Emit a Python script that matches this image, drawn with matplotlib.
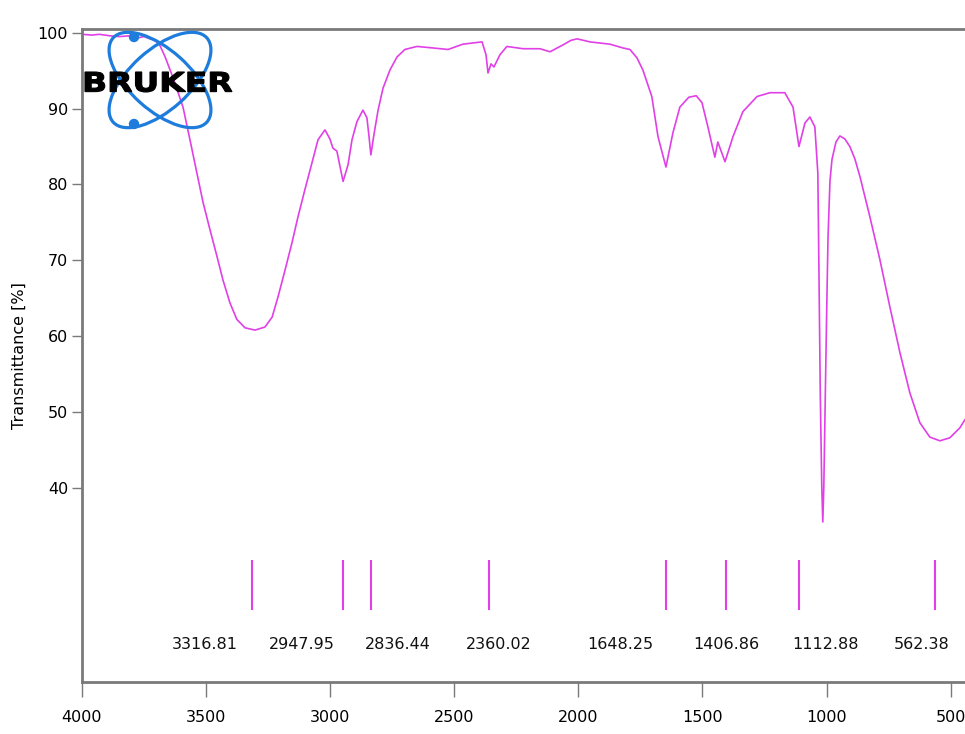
import matplotlib
matplotlib.use("Agg")
import matplotlib.pyplot as plt
from matplotlib.patches import Ellipse, Circle, PathPatch
from matplotlib.textpath import TextPath
from matplotlib.font_manager import FontProperties
from matplotlib.transforms import Affine2D

# spectrum (wavenumber cm-1, transmittance %)
wavenumber = [4000, 3960, 3930, 3887, 3850, 3807, 3780, 3750, 3726, 3714, 3690,
              3666, 3630, 3593, 3565, 3537, 3512, 3484, 3456, 3432, 3404,
              3376, 3343, 3303, 3263, 3234, 3210, 3182, 3154, 3130, 3102, 3073,
              3049, 3021, 3001, 2989, 2973, 2948, 2928, 2912, 2892, 2868, 2852,
              2844, 2836, 2824, 2807, 2787, 2759, 2731, 2699, 2650, 2586, 2525,
              2465, 2388, 2372, 2364, 2352, 2340, 2316, 2288, 2223, 2155, 2114,
              2062, 2030, 2005, 1953, 1873, 1820, 1792, 1764, 1740, 1704, 1679,
              1647, 1619, 1591, 1555, 1525, 1502, 1478, 1450, 1438, 1409, 1377,
              1337, 1280, 1228, 1168, 1135, 1111, 1087, 1067, 1047, 1035, 1031,
              1025, 1019, 1015, 1011, 1006, 1000, 994, 986, 978, 962, 946, 926,
              906, 886, 865, 825, 785, 745, 704, 664, 624, 584, 543, 503, 463, 442]
transmittance = [99.8, 99.7, 99.8, 99.6, 99.5, 99.6, 99.3, 99.5, 99.2, 99.1, 98.6,
                 96.9, 93.8, 90.2, 85.9, 81.5, 77.6, 74.0, 70.5, 67.4, 64.4,
                 62.2, 61.1, 60.8, 61.2, 62.5, 65.2, 68.7, 72.3, 75.7, 79.3, 82.9,
                 85.9, 87.2, 86.0, 84.8, 84.4, 80.4, 82.6, 85.9, 88.3, 89.8, 88.8,
                 86.5, 83.9, 86.5, 89.8, 92.7, 95.1, 96.8, 97.8, 98.2, 98.0, 97.8,
                 98.5, 98.8, 97.1, 94.7, 95.9, 95.5, 97.1, 98.2, 97.9, 97.9, 97.5,
                 98.4, 99.0, 99.2, 98.8, 98.5, 98.0, 97.8, 96.7, 95.1, 91.6, 86.3,
                 82.3, 86.8, 90.2, 91.5, 91.7, 90.8, 87.6, 83.6, 85.6, 83.0, 86.3,
                 89.6, 91.6, 92.1, 92.1, 90.2, 85.0, 88.1, 88.9, 87.6, 81.5, 70.0,
                 52.0, 40.0, 35.5, 40.0, 50.0, 62.0, 73.0, 80.5, 83.3, 85.6, 86.4,
                 86.0, 85.0, 83.4, 81.0, 75.7, 70.1, 63.9, 57.8, 52.5, 48.6, 46.7,
                 46.2, 46.6, 47.9, 49.0]

peaks = [3316.81, 2947.95, 2836.44, 2360.02, 1648.25, 1406.86, 1112.88, 562.38]
peak_labels = ["3316.81", "2947.95", "2836.44", "2360.02",
               "1648.25", "1406.86", "1112.88", "562.38"]
# where the peak labels sit along the axis
label_pos = [3504, 3114, 2727, 2320, 1832, 1405, 1006, 616]

line_col = "#e040e6"
spine_col = "#7a7a7a"

fig = plt.figure(figsize=(9.65, 7.34), dpi=100)
ax = fig.add_axes([82 / 965, 1 - 682 / 734, 1 - 82 / 965, (682 - 29) / 734])

ax.plot(wavenumber, transmittance, color=line_col, lw=1.2)
ax.vlines(peaks, 23.9, 30.5, color=line_col, lw=1.5)
for pos, lab in zip(label_pos, peak_labels):
    ax.text(pos, 19.3, lab, ha="center", va="center", fontsize=11.5, color="#111111")

ax.set_xlim(4000, 442)
ax.set_ylim(14.4, 100.5)
ax.set_xticks([4000, 3500, 3000, 2500, 2000, 1500, 1000, 500])
ax.set_yticks([40, 50, 60, 70, 80, 90, 100])
ax.tick_params(axis="x", direction="out", length=11, width=1, color=spine_col,
               labelsize=11.5, pad=9)
ax.tick_params(axis="y", direction="out", length=7, width=1, color=spine_col,
               labelsize=11.5, pad=3)
ax.set_ylabel("Transmittance [%]", fontsize=11.5, labelpad=8)

for side in ["left", "bottom", "top"]:
    ax.spines[side].set_color(spine_col)
    ax.spines[side].set_linewidth(2)
ax.spines["right"].set_visible(False)

# Bruker logo, drawn in figure pixel units
logo = fig.add_axes([0, 0, 1, 1], zorder=5)
logo.set_xlim(0, 965)
logo.set_ylim(734, 0)
logo.axis("off")
blue = "#1e7ddc"
logo.add_patch(Ellipse((160, 80), 126, 60, angle=42, fill=False, ec=blue, lw=2.3))
logo.add_patch(Ellipse((160, 80), 126, 60, angle=-42, fill=False, ec=blue, lw=2.3))
logo.add_patch(Circle((134, 37), 4.5, color=blue))
logo.add_patch(Circle((134, 124), 4.5, color=blue))

tp = TextPath((0, 0), "BRUKER", size=30,
              prop=FontProperties(family="DejaVu Sans", weight="bold"))
bb = tp.get_extents()
tr = (Affine2D().translate(-bb.x0, -bb.y0)
      .scale(147 / bb.width, -20 / bb.height).translate(85, 92))
logo.add_patch(PathPatch(tr.transform_path(tp), fc="black", ec="black", lw=0.8))

fig.savefig("out.png", dpi=100)
